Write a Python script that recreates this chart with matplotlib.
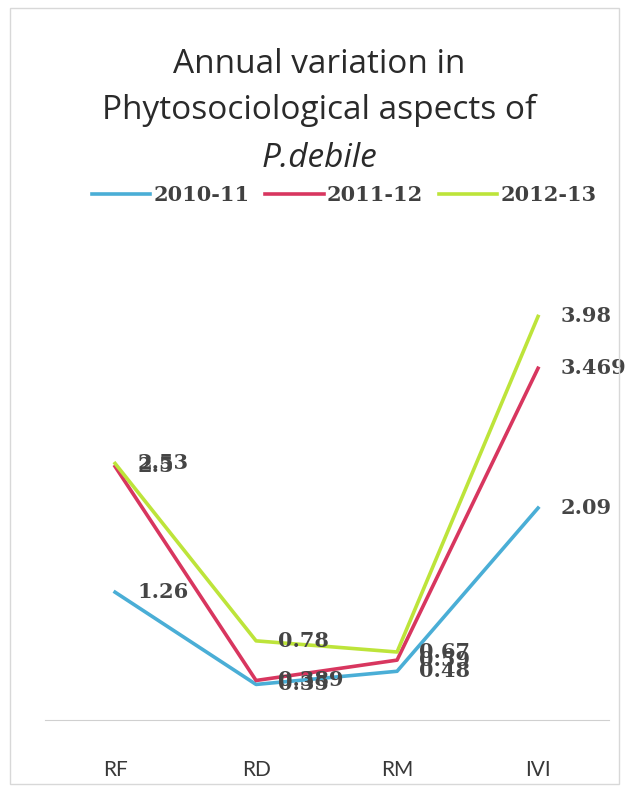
import matplotlib.pyplot as plt
from matplotlib.patches import Rectangle

categories = ["RF", "RD", "RM", "IVI"]
years = ["2010-11", "2011-12", "2012-13"]
v_2010 = [1.26, 0.35, 0.48, 2.09]
v_2011 = [2.5, 0.389, 0.59, 3.469]
v_2012 = [2.53, 0.78, 0.67, 3.98]

colors = ["#4aaed6", "#d8365f", "#bde43a"]

fig = plt.figure(figsize=(6.28, 7.92), dpi=100)
ax = fig.add_axes([0.071, 0.091, 0.898, 0.576])

x = range(len(categories))
for vals, c, lab in zip([v_2010, v_2011, v_2012], colors, years):
    ax.plot(x, vals, color=c, linewidth=2.6, label=lab)
    for xi, v in zip(x, vals):
        ax.annotate(f"{v:g}", (xi, v), xytext=(16, 0), textcoords="offset points",
                    ha="left", va="center", fontsize=15, family="DejaVu Serif",
                    fontweight="bold", color="#454545")

ax.set_xlim(-0.5, 3.5)
ax.set_ylim(0, 4.5)
ax.set_xticks(list(x))
ax.set_xticklabels(categories, fontsize=15, family="Lato", color="#383838")
ax.set_yticks([])
ax.tick_params(axis="x", length=0, pad=29)
for s in ["top", "right", "left"]:
    ax.spines[s].set_visible(False)
ax.spines["bottom"].set_color("#d0d0d0")

title_kw = dict(ha="center", va="baseline", fontsize=24, family="Open Sans", color="#2a2a2a")
fig.text(0.508, 0.908, "Annual variation in", **title_kw)
fig.text(0.508, 0.850, "Phytosociological aspects of", **title_kw)
fig.text(0.508, 0.789, "P.debile", style="italic", **title_kw)

leg = fig.legend(loc="center", bbox_to_anchor=(0.548, 0.754), ncol=3, frameon=False,
                 handlelength=2.8, handletextpad=0.15, columnspacing=0.77,
                 prop={"family": "DejaVu Serif", "size": 15, "weight": "bold"})
for t in leg.get_texts():
    t.set_color("#404040")

fig.patches.append(Rectangle((0.016, 0.01), 0.97, 0.98, transform=fig.transFigure,
                             fill=False, edgecolor="#d8d8d8", linewidth=1))

plt.savefig("out.png", dpi=100)
